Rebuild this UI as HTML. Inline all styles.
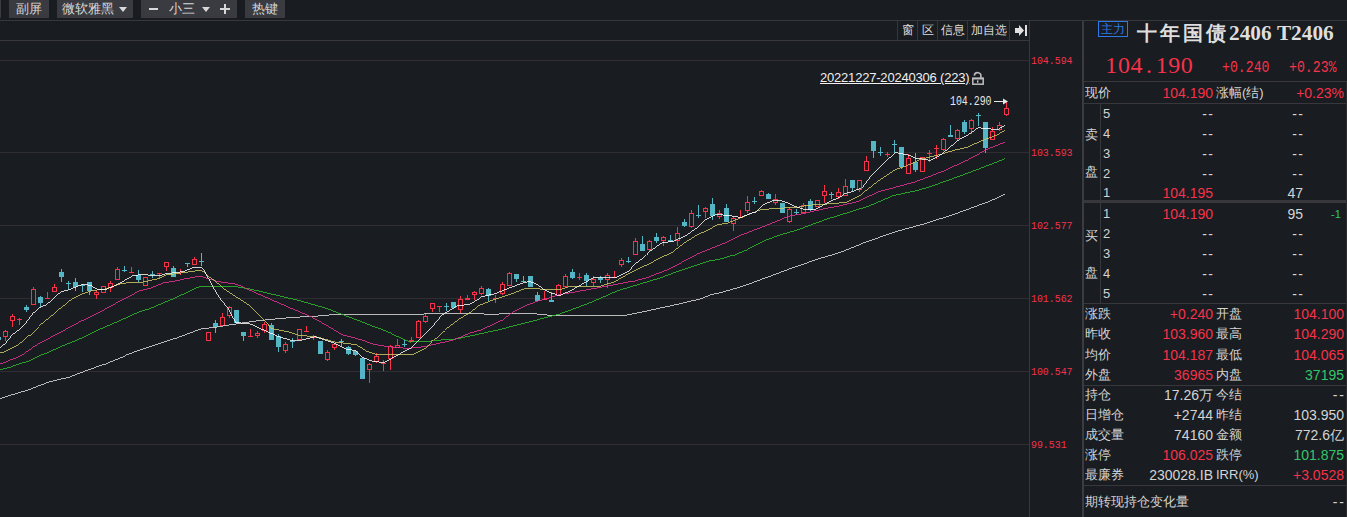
<!DOCTYPE html>
<html><head><meta charset="utf-8">
<style>
*{margin:0;padding:0;box-sizing:border-box}
html,body{width:1347px;height:517px;overflow:hidden;background:#191c20;font-family:"Liberation Sans",sans-serif;color:#d6d6d6}
.abs{position:absolute}
.btn{position:absolute;top:0;height:18px;background:#3a3b41;color:#d8d8d8;font-size:13px;line-height:18px;text-align:center}
.hl{position:absolute;background:#38373c}
.cell{position:absolute;top:21px;height:19px;border-left:1px solid #34363b;font-size:12px;line-height:19px;text-align:center;color:#dcdcdc}
.yl{position:absolute;left:1031px;font-family:"Liberation Mono",monospace;font-size:9.9px;color:#f5334a;line-height:10px;transform:scaleY(1.15);transform-origin:0 0}
.rp{position:absolute;font-size:13px;line-height:16px;white-space:nowrap}
.lab{color:#d4d4d4}
.red{color:#f5334a}
.grn{color:#35c46e}
.r{text-align:right;font-size:14px}
</style></head><body>
<div class="btn" style="left:-10px;width:11px"></div>
<div class="btn" style="left:9px;width:40px">副屏</div>
<div class="btn" style="left:57px;width:76px;text-align:left;padding-left:5px">微软雅黑<span style="position:absolute;left:62px;top:7px;width:0;height:0;border-left:4px solid transparent;border-right:4px solid transparent;border-top:5px solid #d8d8d8"></span></div>
<div class="btn" style="left:141px;width:96px"><span class="abs" style="left:8px;top:8px;width:9px;height:2px;background:#d8d8d8"></span><span class="abs" style="left:28px;top:0">小三</span><span class="abs" style="left:61px;top:7px;width:0;height:0;border-left:4px solid transparent;border-right:4px solid transparent;border-top:5px solid #d8d8d8"></span><span class="abs" style="left:79px;top:4px;width:10px;height:10px"><span class="abs" style="left:0;top:4px;width:10px;height:2px;background:#d8d8d8"></span><span class="abs" style="left:4px;top:0;width:2px;height:10px;background:#d8d8d8"></span></span></div>
<div class="btn" style="left:245px;width:40px">热键</div>
<div class="hl" style="left:0;top:20px;width:1347px;height:1px"></div>
<div class="hl" style="left:0;top:40px;width:1029px;height:1px"></div>
<div class="hl" style="left:1029px;top:21px;width:1px;height:496px"></div>
<div class="hl" style="left:1082px;top:21px;width:2px;height:496px;background:#3a3c41"></div>
<div class="cell" style="left:897px;width:20px">窗</div>
<div class="cell" style="left:917px;width:20px">区</div>
<div class="cell" style="left:937px;width:30px">信息</div>
<div class="cell" style="left:967px;width:42px">加自选</div>
<div class="cell" style="left:1009px;width:20px"><svg width="18" height="19" style="position:absolute;left:1px;top:0"><path d="M4 7h4v-3l5 5.5-5 5.5v-3h-4z" fill="#e0e0e0"/><rect x="14" y="4" width="2" height="11" fill="#e0e0e0"/></svg></div>
<svg class="abs" style="left:0;top:0" width="1029" height="517" viewBox="0 0 1029 517">
<rect x="0" y="60" width="1029" height="1" fill="#2f2d32"/>
<rect x="0" y="152" width="1029" height="1" fill="#2f2d32"/>
<rect x="0" y="225" width="1029" height="1" fill="#2f2d32"/>
<rect x="0" y="298" width="1029" height="1" fill="#2f2d32"/>
<rect x="0" y="371" width="1029" height="1" fill="#2f2d32"/>
<rect x="0" y="444" width="1029" height="1" fill="#2f2d32"/>
<rect x="-2" y="336" width="1" height="6" fill="#54b6c4"/>
<rect x="-4" y="337" width="5" height="3" fill="#54b6c4"/>
<rect x="5" y="330" width="1" height="11" fill="#f5334a"/>
<rect x="3.5" y="331.5" width="4" height="5" fill="#191c20" stroke="#f5334a" stroke-width="1"/>
<rect x="12" y="314" width="1" height="13" fill="#f5334a"/>
<rect x="10.5" y="316.5" width="4" height="4" fill="#191c20" stroke="#f5334a" stroke-width="1"/>
<rect x="19" y="318" width="1" height="7" fill="#f5334a"/>
<rect x="17" y="319" width="5" height="1" fill="#f5334a"/>
<rect x="26" y="305" width="1" height="7" fill="#54b6c4"/>
<rect x="24" y="307" width="5" height="3" fill="#54b6c4"/>
<rect x="33" y="287" width="1" height="18" fill="#f5334a"/>
<rect x="31.5" y="289.5" width="4" height="15" fill="#191c20" stroke="#f5334a" stroke-width="1"/>
<rect x="40" y="296" width="1" height="11" fill="#54b6c4"/>
<rect x="38" y="297" width="5" height="6" fill="#54b6c4"/>
<rect x="47" y="292" width="1" height="7" fill="#f5334a"/>
<rect x="45" y="298" width="5" height="1" fill="#f5334a"/>
<rect x="54" y="284" width="1" height="8" fill="#f5334a"/>
<rect x="52.5" y="287.5" width="4" height="4" fill="#191c20" stroke="#f5334a" stroke-width="1"/>
<rect x="61" y="269" width="1" height="13" fill="#54b6c4"/>
<rect x="59" y="272" width="5" height="5" fill="#54b6c4"/>
<rect x="68" y="281" width="1" height="8" fill="#54b6c4"/>
<rect x="66" y="283" width="5" height="1" fill="#54b6c4"/>
<rect x="75" y="278" width="1" height="13" fill="#54b6c4"/>
<rect x="73" y="282" width="5" height="5" fill="#54b6c4"/>
<rect x="82" y="284" width="1" height="8" fill="#54b6c4"/>
<rect x="80" y="285" width="5" height="1" fill="#54b6c4"/>
<rect x="89" y="282" width="1" height="13" fill="#54b6c4"/>
<rect x="87" y="282" width="5" height="9" fill="#54b6c4"/>
<rect x="96" y="290" width="1" height="9" fill="#f5334a"/>
<rect x="94.5" y="292.5" width="4" height="2" fill="#191c20" stroke="#f5334a" stroke-width="1"/>
<rect x="103" y="286" width="1" height="7" fill="#f5334a"/>
<rect x="101.5" y="286.5" width="4" height="6" fill="#191c20" stroke="#f5334a" stroke-width="1"/>
<rect x="110" y="281" width="1" height="11" fill="#f5334a"/>
<rect x="108.5" y="283.5" width="4" height="4" fill="#191c20" stroke="#f5334a" stroke-width="1"/>
<rect x="117" y="267" width="1" height="13" fill="#f5334a"/>
<rect x="115.5" y="269.5" width="4" height="10" fill="#191c20" stroke="#f5334a" stroke-width="1"/>
<rect x="124" y="266" width="1" height="6" fill="#54b6c4"/>
<rect x="122" y="270" width="5" height="1" fill="#54b6c4"/>
<rect x="131" y="267" width="1" height="6" fill="#f5334a"/>
<rect x="129" y="272" width="5" height="1" fill="#f5334a"/>
<rect x="138" y="270" width="1" height="12" fill="#54b6c4"/>
<rect x="136" y="275" width="5" height="5" fill="#54b6c4"/>
<rect x="145" y="277" width="1" height="9" fill="#f5334a"/>
<rect x="143.5" y="277.5" width="4" height="8" fill="#191c20" stroke="#f5334a" stroke-width="1"/>
<rect x="152" y="271" width="1" height="7" fill="#54b6c4"/>
<rect x="150" y="274" width="5" height="1" fill="#54b6c4"/>
<rect x="159" y="273" width="1" height="5" fill="#f5334a"/>
<rect x="157" y="273" width="5" height="1" fill="#f5334a"/>
<rect x="166" y="262" width="1" height="9" fill="#f5334a"/>
<rect x="164.5" y="262.5" width="4" height="4" fill="#191c20" stroke="#f5334a" stroke-width="1"/>
<rect x="173" y="266" width="1" height="11" fill="#54b6c4"/>
<rect x="171" y="268" width="5" height="9" fill="#54b6c4"/>
<rect x="180" y="269" width="1" height="6" fill="#f5334a"/>
<rect x="178" y="272" width="5" height="1" fill="#f5334a"/>
<rect x="187" y="263" width="1" height="4" fill="#54b6c4"/>
<rect x="185" y="263" width="5" height="1" fill="#54b6c4"/>
<rect x="194" y="257" width="1" height="8" fill="#f5334a"/>
<rect x="192.5" y="259.5" width="4" height="5" fill="#191c20" stroke="#f5334a" stroke-width="1"/>
<rect x="201" y="253" width="1" height="13" fill="#54b6c4"/>
<rect x="199" y="261" width="5" height="1" fill="#54b6c4"/>
<rect x="208" y="332" width="1" height="9" fill="#f5334a"/>
<rect x="206.5" y="332.5" width="4" height="8" fill="#191c20" stroke="#f5334a" stroke-width="1"/>
<rect x="215" y="320" width="1" height="13" fill="#54b6c4"/>
<rect x="213" y="323" width="5" height="4" fill="#54b6c4"/>
<rect x="222" y="313" width="1" height="13" fill="#f5334a"/>
<rect x="220.5" y="317.5" width="4" height="8" fill="#191c20" stroke="#f5334a" stroke-width="1"/>
<rect x="229" y="306" width="1" height="12" fill="#f5334a"/>
<rect x="227.5" y="307.5" width="4" height="8" fill="#191c20" stroke="#f5334a" stroke-width="1"/>
<rect x="236" y="310" width="1" height="13" fill="#54b6c4"/>
<rect x="234" y="310" width="5" height="13" fill="#54b6c4"/>
<rect x="243" y="332" width="1" height="9" fill="#54b6c4"/>
<rect x="241" y="332" width="5" height="4" fill="#54b6c4"/>
<rect x="250" y="329" width="1" height="8" fill="#f5334a"/>
<rect x="248" y="336" width="5" height="1" fill="#f5334a"/>
<rect x="257" y="331" width="1" height="7" fill="#f5334a"/>
<rect x="255.5" y="333.5" width="4" height="2" fill="#191c20" stroke="#f5334a" stroke-width="1"/>
<rect x="264" y="322" width="1" height="11" fill="#f5334a"/>
<rect x="262.5" y="324.5" width="4" height="6" fill="#191c20" stroke="#f5334a" stroke-width="1"/>
<rect x="271" y="323" width="1" height="17" fill="#54b6c4"/>
<rect x="269" y="325" width="5" height="15" fill="#54b6c4"/>
<rect x="278" y="334" width="1" height="18" fill="#54b6c4"/>
<rect x="276" y="336" width="5" height="11" fill="#54b6c4"/>
<rect x="285" y="342" width="1" height="11" fill="#f5334a"/>
<rect x="283.5" y="344.5" width="4" height="6" fill="#191c20" stroke="#f5334a" stroke-width="1"/>
<rect x="292" y="338" width="1" height="10" fill="#54b6c4"/>
<rect x="290" y="341" width="5" height="1" fill="#54b6c4"/>
<rect x="299" y="329" width="1" height="11" fill="#f5334a"/>
<rect x="297.5" y="329.5" width="4" height="10" fill="#191c20" stroke="#f5334a" stroke-width="1"/>
<rect x="306" y="326" width="1" height="6" fill="#f5334a"/>
<rect x="304" y="331" width="5" height="1" fill="#f5334a"/>
<rect x="313" y="335" width="1" height="5" fill="#f5334a"/>
<rect x="311" y="337" width="5" height="1" fill="#f5334a"/>
<rect x="320" y="341" width="1" height="13" fill="#54b6c4"/>
<rect x="318" y="341" width="5" height="13" fill="#54b6c4"/>
<rect x="327" y="350" width="1" height="11" fill="#f5334a"/>
<rect x="325.5" y="352.5" width="4" height="7" fill="#191c20" stroke="#f5334a" stroke-width="1"/>
<rect x="334" y="343" width="1" height="7" fill="#f5334a"/>
<rect x="332.5" y="344.5" width="4" height="3" fill="#191c20" stroke="#f5334a" stroke-width="1"/>
<rect x="341" y="339" width="1" height="7" fill="#54b6c4"/>
<rect x="339" y="341" width="5" height="1" fill="#54b6c4"/>
<rect x="348" y="346" width="1" height="9" fill="#54b6c4"/>
<rect x="346" y="347" width="5" height="7" fill="#54b6c4"/>
<rect x="355" y="350" width="1" height="6" fill="#54b6c4"/>
<rect x="353" y="351" width="5" height="4" fill="#54b6c4"/>
<rect x="362" y="358" width="1" height="21" fill="#54b6c4"/>
<rect x="360" y="358" width="5" height="21" fill="#54b6c4"/>
<rect x="369" y="363" width="1" height="20" fill="#f5334a"/>
<rect x="367.5" y="364.5" width="4" height="5" fill="#191c20" stroke="#f5334a" stroke-width="1"/>
<rect x="376" y="353" width="1" height="10" fill="#f5334a"/>
<rect x="374.5" y="356.5" width="4" height="5" fill="#191c20" stroke="#f5334a" stroke-width="1"/>
<rect x="383" y="360" width="1" height="11" fill="#f5334a"/>
<rect x="381" y="363" width="5" height="1" fill="#f5334a"/>
<rect x="390" y="345" width="1" height="25" fill="#f5334a"/>
<rect x="388.5" y="346.5" width="4" height="12" fill="#191c20" stroke="#f5334a" stroke-width="1"/>
<rect x="397" y="339" width="1" height="9" fill="#f5334a"/>
<rect x="395.5" y="345.5" width="4" height="2" fill="#191c20" stroke="#f5334a" stroke-width="1"/>
<rect x="404" y="340" width="1" height="7" fill="#54b6c4"/>
<rect x="402" y="344" width="5" height="1" fill="#54b6c4"/>
<rect x="411" y="337" width="1" height="5" fill="#f5334a"/>
<rect x="409.5" y="340.5" width="4" height="1" fill="#191c20" stroke="#f5334a" stroke-width="1"/>
<rect x="418" y="320" width="1" height="18" fill="#f5334a"/>
<rect x="416.5" y="321.5" width="4" height="16" fill="#191c20" stroke="#f5334a" stroke-width="1"/>
<rect x="425" y="313" width="1" height="10" fill="#f5334a"/>
<rect x="423.5" y="316.5" width="4" height="5" fill="#191c20" stroke="#f5334a" stroke-width="1"/>
<rect x="432" y="303" width="1" height="9" fill="#f5334a"/>
<rect x="430.5" y="303.5" width="4" height="5" fill="#191c20" stroke="#f5334a" stroke-width="1"/>
<rect x="439" y="306" width="1" height="6" fill="#f5334a"/>
<rect x="437" y="306" width="5" height="1" fill="#f5334a"/>
<rect x="446" y="303" width="1" height="8" fill="#54b6c4"/>
<rect x="444" y="306" width="5" height="1" fill="#54b6c4"/>
<rect x="453" y="302" width="1" height="6" fill="#54b6c4"/>
<rect x="451" y="302" width="5" height="6" fill="#54b6c4"/>
<rect x="460" y="296" width="1" height="17" fill="#f5334a"/>
<rect x="458.5" y="299.5" width="4" height="10" fill="#191c20" stroke="#f5334a" stroke-width="1"/>
<rect x="467" y="295" width="1" height="5" fill="#f5334a"/>
<rect x="465.5" y="298.5" width="4" height="1" fill="#191c20" stroke="#f5334a" stroke-width="1"/>
<rect x="474" y="291" width="1" height="9" fill="#f5334a"/>
<rect x="472.5" y="292.5" width="4" height="2" fill="#191c20" stroke="#f5334a" stroke-width="1"/>
<rect x="481" y="286" width="1" height="9" fill="#f5334a"/>
<rect x="479.5" y="288.5" width="4" height="5" fill="#191c20" stroke="#f5334a" stroke-width="1"/>
<rect x="488" y="288" width="1" height="13" fill="#54b6c4"/>
<rect x="486" y="289" width="5" height="7" fill="#54b6c4"/>
<rect x="495" y="295" width="1" height="8" fill="#f5334a"/>
<rect x="493" y="298" width="5" height="1" fill="#f5334a"/>
<rect x="502" y="282" width="1" height="13" fill="#f5334a"/>
<rect x="500.5" y="284.5" width="4" height="9" fill="#191c20" stroke="#f5334a" stroke-width="1"/>
<rect x="509" y="272" width="1" height="14" fill="#f5334a"/>
<rect x="507.5" y="273.5" width="4" height="12" fill="#191c20" stroke="#f5334a" stroke-width="1"/>
<rect x="516" y="274" width="1" height="8" fill="#54b6c4"/>
<rect x="514" y="274" width="5" height="5" fill="#54b6c4"/>
<rect x="523" y="276" width="1" height="6" fill="#54b6c4"/>
<rect x="521" y="281" width="5" height="1" fill="#54b6c4"/>
<rect x="530" y="276" width="1" height="11" fill="#54b6c4"/>
<rect x="528" y="276" width="5" height="11" fill="#54b6c4"/>
<rect x="537" y="292" width="1" height="9" fill="#54b6c4"/>
<rect x="535" y="295" width="5" height="6" fill="#54b6c4"/>
<rect x="544" y="291" width="1" height="9" fill="#f5334a"/>
<rect x="542" y="299" width="5" height="1" fill="#f5334a"/>
<rect x="551" y="292" width="1" height="10" fill="#54b6c4"/>
<rect x="549" y="300" width="5" height="2" fill="#54b6c4"/>
<rect x="558" y="284" width="1" height="12" fill="#f5334a"/>
<rect x="556.5" y="285.5" width="4" height="10" fill="#191c20" stroke="#f5334a" stroke-width="1"/>
<rect x="565" y="274" width="1" height="13" fill="#f5334a"/>
<rect x="563.5" y="276.5" width="4" height="10" fill="#191c20" stroke="#f5334a" stroke-width="1"/>
<rect x="572" y="269" width="1" height="10" fill="#54b6c4"/>
<rect x="570" y="272" width="5" height="6" fill="#54b6c4"/>
<rect x="579" y="273" width="1" height="7" fill="#f5334a"/>
<rect x="577" y="277" width="5" height="1" fill="#f5334a"/>
<rect x="586" y="273" width="1" height="13" fill="#54b6c4"/>
<rect x="584" y="275" width="5" height="6" fill="#54b6c4"/>
<rect x="593" y="276" width="1" height="10" fill="#f5334a"/>
<rect x="591.5" y="279.5" width="4" height="3" fill="#191c20" stroke="#f5334a" stroke-width="1"/>
<rect x="600" y="276" width="1" height="7" fill="#54b6c4"/>
<rect x="598" y="278" width="5" height="2" fill="#54b6c4"/>
<rect x="607" y="273" width="1" height="15" fill="#f5334a"/>
<rect x="605.5" y="275.5" width="4" height="4" fill="#191c20" stroke="#f5334a" stroke-width="1"/>
<rect x="614" y="271" width="1" height="7" fill="#f5334a"/>
<rect x="612" y="277" width="5" height="1" fill="#f5334a"/>
<rect x="621" y="258" width="1" height="9" fill="#f5334a"/>
<rect x="619.5" y="260.5" width="4" height="4" fill="#191c20" stroke="#f5334a" stroke-width="1"/>
<rect x="628" y="257" width="1" height="6" fill="#54b6c4"/>
<rect x="626" y="261" width="5" height="1" fill="#54b6c4"/>
<rect x="635" y="238" width="1" height="17" fill="#f5334a"/>
<rect x="633.5" y="241.5" width="4" height="13" fill="#191c20" stroke="#f5334a" stroke-width="1"/>
<rect x="642" y="236" width="1" height="15" fill="#54b6c4"/>
<rect x="640" y="244" width="5" height="7" fill="#54b6c4"/>
<rect x="649" y="240" width="1" height="11" fill="#f5334a"/>
<rect x="647.5" y="241.5" width="4" height="8" fill="#191c20" stroke="#f5334a" stroke-width="1"/>
<rect x="656" y="233" width="1" height="10" fill="#54b6c4"/>
<rect x="654" y="237" width="5" height="4" fill="#54b6c4"/>
<rect x="663" y="236" width="1" height="10" fill="#f5334a"/>
<rect x="661.5" y="237.5" width="4" height="3" fill="#191c20" stroke="#f5334a" stroke-width="1"/>
<rect x="670" y="235" width="1" height="7" fill="#54b6c4"/>
<rect x="668" y="240" width="5" height="2" fill="#54b6c4"/>
<rect x="677" y="227" width="1" height="19" fill="#f5334a"/>
<rect x="675.5" y="233.5" width="4" height="7" fill="#191c20" stroke="#f5334a" stroke-width="1"/>
<rect x="684" y="219" width="1" height="8" fill="#54b6c4"/>
<rect x="682" y="222" width="5" height="4" fill="#54b6c4"/>
<rect x="691" y="210" width="1" height="18" fill="#f5334a"/>
<rect x="689.5" y="213.5" width="4" height="13" fill="#191c20" stroke="#f5334a" stroke-width="1"/>
<rect x="698" y="205" width="1" height="13" fill="#54b6c4"/>
<rect x="696" y="215" width="5" height="1" fill="#54b6c4"/>
<rect x="705" y="207" width="1" height="11" fill="#f5334a"/>
<rect x="703.5" y="208.5" width="4" height="3" fill="#191c20" stroke="#f5334a" stroke-width="1"/>
<rect x="712" y="198" width="1" height="22" fill="#54b6c4"/>
<rect x="710" y="204" width="5" height="12" fill="#54b6c4"/>
<rect x="719" y="210" width="1" height="9" fill="#f5334a"/>
<rect x="717.5" y="213.5" width="4" height="3" fill="#191c20" stroke="#f5334a" stroke-width="1"/>
<rect x="726" y="204" width="1" height="18" fill="#54b6c4"/>
<rect x="724" y="208" width="5" height="14" fill="#54b6c4"/>
<rect x="733" y="217" width="1" height="14" fill="#f5334a"/>
<rect x="731.5" y="218.5" width="4" height="5" fill="#191c20" stroke="#f5334a" stroke-width="1"/>
<rect x="740" y="210" width="1" height="8" fill="#f5334a"/>
<rect x="738" y="217" width="5" height="1" fill="#f5334a"/>
<rect x="747" y="196" width="1" height="17" fill="#f5334a"/>
<rect x="745.5" y="202.5" width="4" height="8" fill="#191c20" stroke="#f5334a" stroke-width="1"/>
<rect x="754" y="197" width="1" height="7" fill="#54b6c4"/>
<rect x="752" y="201" width="5" height="1" fill="#54b6c4"/>
<rect x="761" y="190" width="1" height="6" fill="#f5334a"/>
<rect x="759.5" y="191.5" width="4" height="4" fill="#191c20" stroke="#f5334a" stroke-width="1"/>
<rect x="768" y="193" width="1" height="6" fill="#54b6c4"/>
<rect x="766" y="194" width="5" height="5" fill="#54b6c4"/>
<rect x="775" y="194" width="1" height="11" fill="#f5334a"/>
<rect x="773.5" y="199.5" width="4" height="3" fill="#191c20" stroke="#f5334a" stroke-width="1"/>
<rect x="782" y="203" width="1" height="10" fill="#54b6c4"/>
<rect x="780" y="203" width="5" height="10" fill="#54b6c4"/>
<rect x="789" y="207" width="1" height="16" fill="#f5334a"/>
<rect x="787.5" y="209.5" width="4" height="12" fill="#191c20" stroke="#f5334a" stroke-width="1"/>
<rect x="796" y="209" width="1" height="6" fill="#54b6c4"/>
<rect x="794" y="212" width="5" height="1" fill="#54b6c4"/>
<rect x="803" y="203" width="1" height="10" fill="#f5334a"/>
<rect x="801.5" y="205.5" width="4" height="7" fill="#191c20" stroke="#f5334a" stroke-width="1"/>
<rect x="810" y="199" width="1" height="12" fill="#54b6c4"/>
<rect x="808" y="201" width="5" height="9" fill="#54b6c4"/>
<rect x="817" y="200" width="1" height="7" fill="#f5334a"/>
<rect x="815.5" y="200.5" width="4" height="6" fill="#191c20" stroke="#f5334a" stroke-width="1"/>
<rect x="824" y="185" width="1" height="18" fill="#f5334a"/>
<rect x="822.5" y="191.5" width="4" height="4" fill="#191c20" stroke="#f5334a" stroke-width="1"/>
<rect x="831" y="192" width="1" height="7" fill="#54b6c4"/>
<rect x="829" y="194" width="5" height="1" fill="#54b6c4"/>
<rect x="838" y="188" width="1" height="11" fill="#f5334a"/>
<rect x="836.5" y="192.5" width="4" height="4" fill="#191c20" stroke="#f5334a" stroke-width="1"/>
<rect x="845" y="179" width="1" height="17" fill="#f5334a"/>
<rect x="843.5" y="186.5" width="4" height="9" fill="#191c20" stroke="#f5334a" stroke-width="1"/>
<rect x="852" y="180" width="1" height="11" fill="#54b6c4"/>
<rect x="850" y="180" width="5" height="8" fill="#54b6c4"/>
<rect x="859" y="180" width="1" height="12" fill="#f5334a"/>
<rect x="857.5" y="180.5" width="4" height="9" fill="#191c20" stroke="#f5334a" stroke-width="1"/>
<rect x="866" y="156" width="1" height="15" fill="#f5334a"/>
<rect x="864.5" y="161.5" width="4" height="9" fill="#191c20" stroke="#f5334a" stroke-width="1"/>
<rect x="873" y="141" width="1" height="17" fill="#54b6c4"/>
<rect x="871" y="141" width="5" height="10" fill="#54b6c4"/>
<rect x="880" y="147" width="1" height="9" fill="#54b6c4"/>
<rect x="878" y="152" width="5" height="1" fill="#54b6c4"/>
<rect x="887" y="152" width="1" height="5" fill="#f5334a"/>
<rect x="885" y="154" width="5" height="1" fill="#f5334a"/>
<rect x="894" y="140" width="1" height="13" fill="#54b6c4"/>
<rect x="892" y="144" width="5" height="1" fill="#54b6c4"/>
<rect x="901" y="147" width="1" height="22" fill="#54b6c4"/>
<rect x="899" y="147" width="5" height="20" fill="#54b6c4"/>
<rect x="908" y="154" width="1" height="20" fill="#f5334a"/>
<rect x="906.5" y="158.5" width="4" height="15" fill="#191c20" stroke="#f5334a" stroke-width="1"/>
<rect x="915" y="153" width="1" height="19" fill="#54b6c4"/>
<rect x="913" y="162" width="5" height="8" fill="#54b6c4"/>
<rect x="922" y="157" width="1" height="15" fill="#f5334a"/>
<rect x="920.5" y="157.5" width="4" height="14" fill="#191c20" stroke="#f5334a" stroke-width="1"/>
<rect x="929" y="150" width="1" height="12" fill="#f5334a"/>
<rect x="927" y="153" width="5" height="1" fill="#f5334a"/>
<rect x="936" y="145" width="1" height="14" fill="#f5334a"/>
<rect x="934" y="148" width="5" height="1" fill="#f5334a"/>
<rect x="943" y="138" width="1" height="13" fill="#f5334a"/>
<rect x="941.5" y="139.5" width="4" height="10" fill="#191c20" stroke="#f5334a" stroke-width="1"/>
<rect x="950" y="125" width="1" height="12" fill="#54b6c4"/>
<rect x="948" y="135" width="5" height="2" fill="#54b6c4"/>
<rect x="957" y="129" width="1" height="12" fill="#f5334a"/>
<rect x="955.5" y="130.5" width="4" height="8" fill="#191c20" stroke="#f5334a" stroke-width="1"/>
<rect x="964" y="120" width="1" height="14" fill="#54b6c4"/>
<rect x="962" y="122" width="5" height="10" fill="#54b6c4"/>
<rect x="971" y="119" width="1" height="15" fill="#f5334a"/>
<rect x="969.5" y="120.5" width="4" height="8" fill="#191c20" stroke="#f5334a" stroke-width="1"/>
<rect x="978" y="113" width="1" height="13" fill="#54b6c4"/>
<rect x="976" y="115" width="5" height="1" fill="#54b6c4"/>
<rect x="985" y="122" width="1" height="31" fill="#54b6c4"/>
<rect x="983" y="122" width="5" height="26" fill="#54b6c4"/>
<rect x="992" y="127" width="1" height="13" fill="#f5334a"/>
<rect x="990.5" y="131.5" width="4" height="8" fill="#191c20" stroke="#f5334a" stroke-width="1"/>
<rect x="999" y="122" width="1" height="9" fill="#f5334a"/>
<rect x="997.5" y="125.5" width="4" height="4" fill="#191c20" stroke="#f5334a" stroke-width="1"/>
<rect x="1006" y="101" width="1" height="15" fill="#f5334a"/>
<rect x="1004.5" y="108.5" width="4" height="6" fill="#191c20" stroke="#f5334a" stroke-width="1"/>
<polyline points="0.0,398.5 27.9,390.0 50.5,381.4 69.7,376.8 104.5,364.0 126.2,355.1 139.3,350.1 160.0,343.2 176.7,338.0 200.0,329.2 220.3,326.5 240.6,323.2 260.9,320.4 281.2,318.4 300.0,317.0 310.9,316.6 331.8,314.8 390.0,314.3 480.0,313.5 485.5,314.2 531.9,313.5 547.4,315.0 570.0,315.3 602.6,315.7 623.8,315.7 646.8,311.0 680.9,303.5 701.2,298.7 712.0,294.4 720.0,292.9 733.5,288.9 753.8,282.1 774.1,274.7 794.4,267.2 820.0,258.4 840.0,252.5 865.0,242.4 896.2,231.5 927.4,223.0 958.6,212.7 989.8,201.2 1005.4,194.0" fill="none" stroke="#e2e2e2" stroke-width="0.8" shape-rendering="crispEdges"/>
<polyline points="0.0,369.7 9.7,367.3 19.4,363.9 29.0,361.0 38.7,356.1 48.4,352.3 60.0,347.0 77.4,340.0 98.7,329.7 120.0,320.5 139.3,311.8 150.0,308.6 177.0,297.1 200.0,286.3 233.9,286.3 250.0,289.0 297.0,300.0 324.8,307.8 360.0,321.2 375.5,327.4 391.0,333.6 404.1,339.4 410.3,342.1 415.7,341.3 428.1,341.3 437.4,340.2 452.9,339.4 460.0,338.2 480.0,333.8 497.9,330.0 536.6,320.0 560.0,313.9 589.0,303.2 618.0,290.6 660.0,278.0 679.0,270.9 708.0,261.2 720.0,259.1 733.5,255.0 747.0,249.6 767.4,239.5 780.9,234.7 797.1,230.0 827.0,219.0 840.0,215.1 868.7,206.1 893.8,195.4 917.0,190.6 930.0,186.7 949.0,180.0 978.0,169.3 1005.1,158.7" fill="none" stroke="#2cc22c" stroke-width="0.8" shape-rendering="crispEdges"/>
<polyline points="0.0,363.7 4.8,362.7 14.5,358.1 24.2,353.7 33.9,346.5 43.6,341.1 60.0,332.5 79.4,322.0 98.7,312.7 120.0,301.1 139.3,291.0 150.0,288.3 163.5,282.9 183.8,279.1 200.0,276.1 206.8,278.2 217.7,281.5 236.6,284.2 250.0,290.3 290.0,307.8 310.9,316.6 324.8,324.4 342.3,334.8 360.0,339.4 375.5,344.8 387.9,346.7 406.4,348.3 414.2,347.9 425.8,346.3 437.4,343.6 452.9,340.2 460.0,337.4 470.0,333.0 480.8,330.0 502.6,320.0 513.2,311.8 526.0,305.4 537.7,301.2 547.2,298.5 556.0,295.5 560.0,294.5 579.3,291.2 608.4,285.8 633.5,281.0 650.0,276.5 669.3,269.0 698.4,253.5 727.4,241.9 740.0,235.5 765.0,226.0 788.4,216.4 807.7,212.6 823.0,209.0 840.0,205.8 859.0,201.2 878.4,191.6 897.7,186.7 915.1,181.9 920.0,180.0 943.2,171.2 968.4,159.6 987.7,149.0 1005.1,142.2" fill="none" stroke="#ee3596" stroke-width="0.8" shape-rendering="crispEdges"/>
<polyline points="0.0,352.5 3.9,352.3 9.7,349.4 18.4,344.5 25.2,339.2 29.5,335.0 39.2,325.7 50.8,316.5 58.6,309.7 65.3,304.4 71.1,299.5 80.3,294.7 92.5,290.3 104.7,289.2 120.9,283.8 130.4,282.2 141.2,282.5 150.0,280.5 158.1,278.8 166.2,275.0 183.8,272.7 201.4,270.0 209.5,277.5 223.0,288.3 236.6,297.1 248.7,304.9 265.0,321.0 271.7,328.6 290.0,332.2 300.5,335.7 316.1,336.6 333.6,341.8 354.5,344.4 364.9,350.5 377.0,354.5 412.6,354.5 425.8,348.3 433.5,339.8 445.1,329.7 460.0,318.5 470.6,312.3 479.1,305.4 489.8,301.2 502.6,296.9 513.2,293.2 523.8,289.0 534.5,288.2 545.1,290.0 560.0,289.5 570.0,286.4 598.7,286.7 614.2,281.9 629.6,273.2 648.0,264.3 665.5,255.4 675.1,250.0 684.8,242.6 696.4,235.3 708.0,230.0 717.7,224.7 727.4,223.2 737.0,219.3 759.3,210.1 771.9,208.7 798.0,207.2 807.7,205.3 823.2,204.3 840.0,202.9 845.5,202.2 861.0,194.5 878.4,180.9 895.8,169.3 907.4,165.5 920.0,159.5 939.3,154.8 954.8,150.0 966.4,147.6 981.9,140.7 997.4,134.9 1005.1,130.2" fill="none" stroke="#d2d068" stroke-width="0.8" shape-rendering="crispEdges"/>
<polyline points="0.0,347.6 4.8,344.0 9.7,338.2 12.6,333.9 15.0,332.9 22.7,326.6 27.6,320.8 32.4,314.0 39.2,307.7 47.0,304.4 53.7,298.1 61.5,291.3 67.3,290.3 75.0,287.4 79.0,285.2 85.7,284.5 91.1,285.5 96.5,289.0 106.0,289.2 111.4,287.2 122.2,281.8 133.0,275.7 142.5,274.4 150.0,275.4 159.5,275.4 166.2,273.4 177.0,272.7 185.2,271.0 193.3,267.3 201.4,267.3 204.1,270.0 212.2,285.6 220.4,299.1 227.8,308.0 231.1,314.4 235.9,322.5 250.0,323.8 265.0,330.6 277.1,336.0 292.0,340.7 300.5,340.0 314.4,336.6 333.6,342.7 347.5,349.7 356.2,350.5 363.2,357.5 371.9,361.0 384.1,362.7 398.7,354.5 409.5,348.7 414.2,344.4 421.9,337.4 429.7,329.7 442.0,315.0 457.4,305.8 468.5,304.4 481.3,296.9 495.1,293.7 505.7,289.5 515.3,285.7 523.8,282.6 530.2,281.5 536.6,284.1 544.0,289.5 551.5,293.2 555.7,294.8 559.8,295.5 570.0,291.0 579.3,285.8 592.9,278.0 614.2,277.6 615.7,277.6 628.8,271.1 632.2,267.2 636.6,262.8 641.8,258.9 647.0,253.5 660.0,244.2 662.6,242.6 672.2,241.6 684.8,236.3 697.4,227.6 706.1,219.3 715.8,214.5 729.3,215.5 737.0,216.9 741.0,217.4 750.0,213.5 754.5,212.6 762.2,205.3 771.9,201.0 778.7,200.0 786.4,202.4 796.1,206.8 805.8,209.7 813.5,209.7 823.2,204.8 830.9,201.0 840.0,197.1 844.9,193.7 851.7,191.7 861.1,188.3 869.2,177.5 884.1,162.6 889.5,157.2 895.0,152.4 901.7,153.8 908.5,155.1 915.3,158.5 924.7,159.2 930.0,160.6 939.3,155.8 949.0,148.0 958.7,139.9 970.3,133.5 978.0,127.7 983.8,128.3 997.4,129.7 1005.1,125.2" fill="none" stroke="#ffffff" stroke-width="0.8" shape-rendering="crispEdges"/>
</svg>
<div class="abs" style="left:820px;top:70px;font-size:13px;color:#f0f0f0;text-decoration:underline;line-height:15px;letter-spacing:-0.2px">20221227-20240306 (223)</div>
<svg class="abs" style="left:966px;top:68px" width="24" height="22"><path d="M8.3 7.6A3.3 3.3 0 0 1 14.9 8.4V10" fill="none" stroke="#bdbdbd" stroke-width="1.6"/><rect x="6.8" y="10.4" width="10.4" height="5.8" fill="none" stroke="#bdbdbd" stroke-width="1.5"/><rect x="6" y="9.6" width="12" height="1.8" fill="#bdbdbd"/><rect x="11" y="12.3" width="1.4" height="2.5" fill="#bdbdbd"/></svg>
<div class="abs" style="left:950px;top:96px;font-family:'Liberation Mono',monospace;font-size:9.9px;color:#e8e8e8;line-height:10px;transform:scaleY(1.25);transform-origin:0 0">104.290</div>
<svg class="abs" style="left:994px;top:97px" width="16" height="9"><rect x="0" y="4" width="11" height="1" fill="#e8e8e8"/><path d="M9 1.5l5 3-5 3z" fill="#e8e8e8"/></svg>
<div class="yl" style="top:56px">104.594</div>
<div class="yl" style="top:148px">103.593</div>
<div class="yl" style="top:221px">102.577</div>
<div class="yl" style="top:294px">101.562</div>
<div class="yl" style="top:367px">100.547</div>
<div class="yl" style="top:440px">99.531</div>
<div class="abs" style="left:1098px;top:21px;width:30px;height:16px;border:1px solid #2f7ae5;color:#2f7ae5;font-size:12px;line-height:14px;text-align:center">主力</div>
<div class="abs" style="left:1137px;top:21px;font-family:'Liberation Serif',serif;font-weight:bold;font-size:21.3px;line-height:24px;color:#dedede;white-space:nowrap"><span style="letter-spacing:3px;font-size:20px">十年国债</span>2406 T2406</div>
<div class="abs" style="left:1105px;top:52px;font-family:'Liberation Serif',serif;font-size:24px;line-height:26px;color:#f5334a;white-space:nowrap"><span style="display:inline-block;width:12.6px;text-align:center">1</span><span style="display:inline-block;width:12.6px;text-align:center">0</span><span style="display:inline-block;width:12.6px;text-align:center">4</span><span style="display:inline-block;width:12.6px;text-align:center">.</span><span style="display:inline-block;width:12.6px;text-align:center">1</span><span style="display:inline-block;width:12.6px;text-align:center">9</span><span style="display:inline-block;width:12.6px;text-align:center">0</span></div>
<div class="abs" style="left:1222px;top:60px;font-family:'Liberation Mono',monospace;font-size:13.2px;line-height:14px;color:#f5334a;transform:scaleY(1.2);transform-origin:0 0">+0.240</div>
<div class="abs" style="left:1289px;top:60px;font-family:'Liberation Mono',monospace;font-size:13.2px;line-height:14px;color:#f5334a;transform:scaleY(1.2);transform-origin:0 0">+0.23%</div>
<div class="hl" style="left:1084px;top:81px;width:1263px;height:1px"></div>
<div class="hl" style="left:1084px;top:103px;width:1263px;height:1px"></div>
<div class="hl" style="left:1084px;top:200px;width:1263px;height:3px"></div>
<div class="hl" style="left:1084px;top:303px;width:1263px;height:1px"></div>
<div class="hl" style="left:1084px;top:385px;width:1263px;height:1px"></div>
<div class="hl" style="left:1084px;top:485px;width:1263px;height:1px"></div>
<div class="hl" style="left:1100px;top:104px;width:1px;height:199px"></div>
<div class="rp lab" style="left:1085px;top:85px">现价</div>
<div class="rp r red" style="left:1130px;width:83px;top:85px">104.190</div>
<div class="rp lab" style="left:1216px;top:85px">涨幅(结)</div>
<div class="rp r red" style="left:1260px;width:84px;top:85px">+0.23%</div>
<div class="rp lab" style="left:1103px;top:106px">5</div>
<div class="rp r lab" style="left:1130px;width:83px;top:106px;letter-spacing:1.5px;margin-left:1.5px">--</div>
<div class="rp r lab" style="left:1240px;width:63px;top:106px;letter-spacing:1.5px;margin-left:1.5px">--</div>
<div class="rp lab" style="left:1103px;top:126px">4</div>
<div class="rp r lab" style="left:1130px;width:83px;top:126px;letter-spacing:1.5px;margin-left:1.5px">--</div>
<div class="rp r lab" style="left:1240px;width:63px;top:126px;letter-spacing:1.5px;margin-left:1.5px">--</div>
<div class="rp lab" style="left:1103px;top:146px">3</div>
<div class="rp r lab" style="left:1130px;width:83px;top:146px;letter-spacing:1.5px;margin-left:1.5px">--</div>
<div class="rp r lab" style="left:1240px;width:63px;top:146px;letter-spacing:1.5px;margin-left:1.5px">--</div>
<div class="rp lab" style="left:1103px;top:166px">2</div>
<div class="rp r lab" style="left:1130px;width:83px;top:166px;letter-spacing:1.5px;margin-left:1.5px">--</div>
<div class="rp r lab" style="left:1240px;width:63px;top:166px;letter-spacing:1.5px;margin-left:1.5px">--</div>
<div class="rp lab" style="left:1103px;top:185px">1</div>
<div class="rp r red" style="left:1130px;width:83px;top:185px">104.195</div>
<div class="rp r lab" style="left:1240px;width:63px;top:185px">47</div>
<div class="rp lab" style="left:1103px;top:206px">1</div>
<div class="rp r red" style="left:1130px;width:83px;top:206px">104.190</div>
<div class="rp r lab" style="left:1240px;width:63px;top:206px">95</div>
<div class="rp lab" style="left:1103px;top:226px">2</div>
<div class="rp r lab" style="left:1130px;width:83px;top:226px;letter-spacing:1.5px;margin-left:1.5px">--</div>
<div class="rp r lab" style="left:1240px;width:63px;top:226px;letter-spacing:1.5px;margin-left:1.5px">--</div>
<div class="rp lab" style="left:1103px;top:246px">3</div>
<div class="rp r lab" style="left:1130px;width:83px;top:246px;letter-spacing:1.5px;margin-left:1.5px">--</div>
<div class="rp r lab" style="left:1240px;width:63px;top:246px;letter-spacing:1.5px;margin-left:1.5px">--</div>
<div class="rp lab" style="left:1103px;top:266px">4</div>
<div class="rp r lab" style="left:1130px;width:83px;top:266px;letter-spacing:1.5px;margin-left:1.5px">--</div>
<div class="rp r lab" style="left:1240px;width:63px;top:266px;letter-spacing:1.5px;margin-left:1.5px">--</div>
<div class="rp lab" style="left:1103px;top:286px">5</div>
<div class="rp r lab" style="left:1130px;width:83px;top:286px;letter-spacing:1.5px;margin-left:1.5px">--</div>
<div class="rp r lab" style="left:1240px;width:63px;top:286px;letter-spacing:1.5px;margin-left:1.5px">--</div>
<div class="rp grn" style="left:1331px;top:206px;font-size:11px">-1</div>
<div class="rp lab" style="left:1085px;top:127px">卖</div>
<div class="rp lab" style="left:1085px;top:164px">盘</div>
<div class="rp lab" style="left:1085px;top:228px">买</div>
<div class="rp lab" style="left:1085px;top:265px">盘</div>
<div class="rp lab" style="left:1085px;top:305.5px">涨跌</div>
<div class="rp r red" style="left:1130px;width:83px;top:305.5px">+0.240</div>
<div class="rp lab" style="left:1216px;top:305.5px">开盘</div>
<div class="rp r red" style="left:1260px;width:84px;top:305.5px">104.100</div>
<div class="rp lab" style="left:1085px;top:326px">昨收</div>
<div class="rp r red" style="left:1130px;width:83px;top:326px">103.960</div>
<div class="rp lab" style="left:1216px;top:326px">最高</div>
<div class="rp r red" style="left:1260px;width:84px;top:326px">104.290</div>
<div class="rp lab" style="left:1085px;top:346.5px">均价</div>
<div class="rp r red" style="left:1130px;width:83px;top:346.5px">104.187</div>
<div class="rp lab" style="left:1216px;top:346.5px">最低</div>
<div class="rp r red" style="left:1260px;width:84px;top:346.5px">104.065</div>
<div class="rp lab" style="left:1085px;top:366.5px">外盘</div>
<div class="rp r red" style="left:1130px;width:83px;top:366.5px">36965</div>
<div class="rp lab" style="left:1216px;top:366.5px">内盘</div>
<div class="rp r grn" style="left:1260px;width:84px;top:366.5px">37195</div>
<div class="rp lab" style="left:1085px;top:387px">持仓</div>
<div class="rp r lab" style="left:1130px;width:83px;top:387px">17.26万</div>
<div class="rp lab" style="left:1216px;top:387px">今结</div>
<div class="rp r lab" style="left:1260px;width:84px;top:387px;letter-spacing:2px;margin-left:2px">--</div>
<div class="rp lab" style="left:1085px;top:407px">日增仓</div>
<div class="rp r lab" style="left:1130px;width:83px;top:407px">+2744</div>
<div class="rp lab" style="left:1216px;top:407px">昨结</div>
<div class="rp r lab" style="left:1260px;width:84px;top:407px">103.950</div>
<div class="rp lab" style="left:1085px;top:427px">成交量</div>
<div class="rp r lab" style="left:1130px;width:83px;top:427px">74160</div>
<div class="rp lab" style="left:1216px;top:427px">金额</div>
<div class="rp r lab" style="left:1260px;width:84px;top:427px">772.6亿</div>
<div class="rp lab" style="left:1085px;top:447px">涨停</div>
<div class="rp r red" style="left:1130px;width:83px;top:447px">106.025</div>
<div class="rp lab" style="left:1216px;top:447px">跌停</div>
<div class="rp r grn" style="left:1260px;width:84px;top:447px">101.875</div>
<div class="rp lab" style="left:1085px;top:467px">最廉券</div>
<div class="rp r lab" style="left:1130px;width:83px;top:467px">230028.IB</div>
<div class="rp lab" style="left:1216px;top:467px">IRR(%)</div>
<div class="rp r red" style="left:1260px;width:84px;top:467px">+3.0528</div>
<div class="rp lab" style="left:1085px;top:494px">期转现持仓变化量</div>
<div class="rp r lab" style="left:1260px;width:84px;top:494px;letter-spacing:2px;margin-left:2px">--</div>
<div class="hl" style="left:1346px;top:82px;width:1px;height:435px;background:#2c2c31"></div>
</body></html>
